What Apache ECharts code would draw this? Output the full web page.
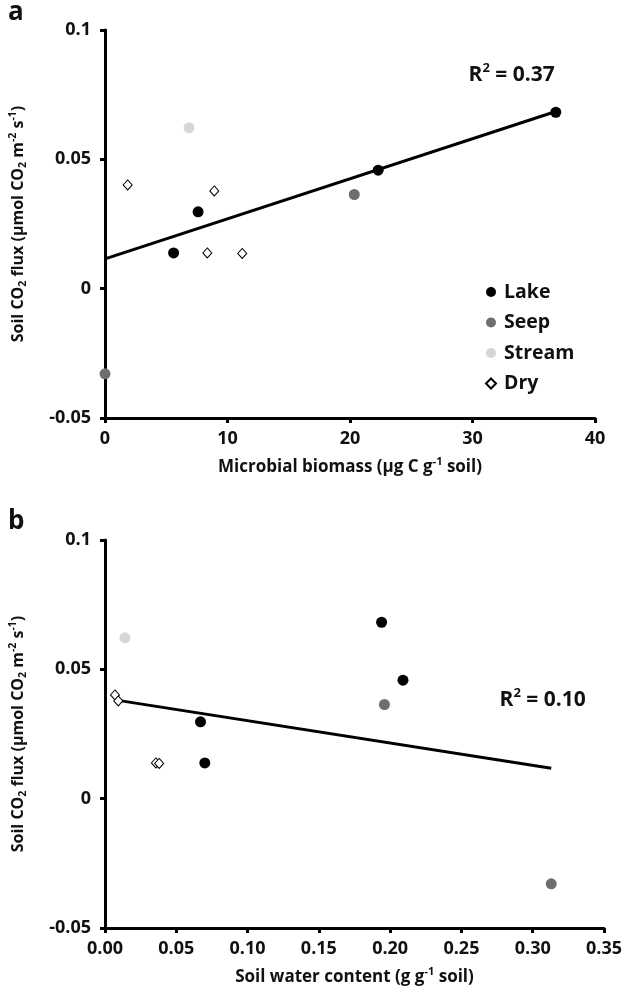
<!DOCTYPE html>
<html>
<head>
<meta charset="utf-8">
<script src="https://cdn.jsdelivr.net/npm/echarts@6/dist/echarts.min.js"></script>
<style>html,body{margin:0;padding:0;background:#fff}#c{width:625px;height:989px}</style>
</head>
<body>
<div id="c"></div>
<script>
// ---- data ----
const groups = ['Lake', 'Seep', 'Stream', 'Dry'];
const lakeBiomass = [5.6, 7.6, 22.3, 36.8];
const lakeWater   = [0.070, 0.067, 0.209, 0.194];
const lakeFlux    = [0.0138, 0.0297, 0.0458, 0.0682];
const seepBiomass = [0, 20.35];
const seepWater   = [0.313, 0.196];
const seepFlux    = [-0.0329, 0.0364];
const streamBiomass = [6.86];
const streamWater   = [0.014];
const streamFlux    = [0.0622];
const dryBiomass = [1.85, 8.92, 8.35, 11.2];
const dryWater   = [0.007, 0.0093, 0.0357, 0.038];
const dryFlux    = [0.0401, 0.0378, 0.0138, 0.0136];
const trendA = [[0, 0.0115], [36.8, 0.0685]];
const trendB = [[0.008, 0.0381], [0.313, 0.0118]];
const r2A = {x: 33.2, y: 0.0826, text: '0.37'};
const r2B = {x: 0.307, y: 0.0382, text: '0.10'};
const xTicksA = [0, 10, 20, 30, 40];
const xTicksB = [0, 0.05, 0.10, 0.15, 0.20, 0.25, 0.30, 0.35];
const yTicks = [-0.05, 0, 0.05, 0.1];

const FONT = '"Open Sans"';
const INK = '#111';
const colors = {Lake: '#000000', Seep: '#6e6e6e', Stream: '#d6d6d6', Dry: '#ffffff'};

const zip = (xs, ys) => xs.map((x, i) => [x, ys[i]]);

function rich(size, supSize) {
  return {
    n: {fontSize: size, fontWeight: 'bold', fontFamily: FONT, color: INK, lineHeight: size + 5},
    sup: {fontSize: supSize, fontWeight: 'bold', fontFamily: FONT, color: INK, lineHeight: supSize + 1, verticalAlign: 'top'},
    sub: {fontSize: supSize, fontWeight: 'bold', fontFamily: FONT, color: INK, lineHeight: supSize + 1, verticalAlign: 'bottom'}
  };
}
const yName = '{n|Soil CO}{sub|2}{n| flux (µmol CO}{sub|2}{n| m}{sup|-2}{n| s}{sup|-1}{n|)}';

function xAxis(idx, min, max, interval, name, fmt) {
  return {
    gridIndex: idx, type: 'value', min, max, interval,
    name, nameLocation: 'middle', nameGap: 38,
    nameTextStyle: {rich: rich(17, 11)},
    axisLine: {show: true, onZero: false, lineStyle: {color: '#000', width: 3}},
    axisTick: {show: true, inside: false, length: 5, lineStyle: {color: '#000', width: 3}},
    axisLabel: {margin: 12, fontSize: 18, fontWeight: 'bold', fontFamily: FONT, color: INK, formatter: fmt},
    splitLine: {show: false}
  };
}
function yAxis(idx) {
  return {
    gridIndex: idx, type: 'value', min: yTicks[0], max: yTicks[yTicks.length - 1], interval: 0.05,
    name: yName, nameLocation: 'middle', nameGap: 76, nameRotate: 90,
    nameTextStyle: {rich: rich(16, 10.5)},
    axisLine: {show: true, onZero: false, lineStyle: {color: '#000', width: 3}},
    axisTick: {show: true, inside: false, length: 5, lineStyle: {color: '#000', width: 3}},
    axisLabel: {margin: 14, fontSize: 18, fontWeight: 'bold', fontFamily: FONT, color: INK,
      formatter: v => String(Math.round(v * 100) / 100)},
    splitLine: {show: false}
  };
}

function scatter(name, data, idx) {
  const isDry = name === 'Dry';
  return {
    name, type: 'scatter', xAxisIndex: idx, yAxisIndex: idx, data,
    symbol: isDry ? 'diamond' : 'circle',
    symbolSize: isDry ? [9, 10] : 11,
    itemStyle: isDry ? {color: '#fff', borderColor: '#000', borderWidth: 1, opacity: 1}
                     : {color: colors[name], opacity: 1},
    z: 3
  };
}
function trend(data, idx) {
  return {type: 'line', xAxisIndex: idx, yAxisIndex: idx, data, symbol: 'none',
    lineStyle: {color: '#000', width: 3}, silent: true, z: 2};
}
function r2(p, idx) {
  return {type: 'scatter', xAxisIndex: idx, yAxisIndex: idx, data: [[p.x, p.y]], symbolSize: 0,
    silent: true, itemStyle: {opacity: 1},
    label: {show: true, position: 'inside', formatter: '{n|R}{sup|2}{n| = ' + p.text + '}', rich: rich(21, 13)}};
}

const option = {
  backgroundColor: '#fff',
  animation: false,
  grid: [
    {left: 105, top: 30, width: 490, height: 388},
    {left: 105, top: 540, width: 500, height: 388}
  ],
  xAxis: [
    xAxis(0, 0, 40, 10, '{n|Microbial biomass (µg C g}{sup|-1}{n| soil)}', v => String(v)),
    xAxis(1, 0, 0.35, 0.05, '{n|Soil water content (g g}{sup|-1}{n| soil)}', v => v.toFixed(2))
  ],
  yAxis: [yAxis(0), yAxis(1)],
  legend: {
    data: groups, orient: 'vertical', left: 480, top: 277,
    itemWidth: 10, itemHeight: 10, itemGap: 10.5,
    textStyle: {fontSize: 19.5, fontWeight: 'bold', fontFamily: FONT, color: INK, lineHeight: 20, padding: [0, 0, 0, 3]}
  },
  graphic: [
    {type: 'text', left: 8, top: 0, style: {text: 'a', fontSize: 26, fontWeight: 'bold', fontFamily: FONT, fill: INK}},
    {type: 'text', left: 8, top: 509, style: {text: 'b', fontSize: 26, fontWeight: 'bold', fontFamily: FONT, fill: INK}}
  ],
  series: [
    trend(trendA, 0),
    scatter('Lake', zip(lakeBiomass, lakeFlux), 0),
    scatter('Seep', zip(seepBiomass, seepFlux), 0),
    scatter('Stream', zip(streamBiomass, streamFlux), 0),
    scatter('Dry', zip(dryBiomass, dryFlux), 0),
    r2(r2A, 0),
    trend(trendB, 1),
    scatter('Lake', zip(lakeWater, lakeFlux), 1),
    scatter('Seep', zip(seepWater, seepFlux), 1),
    scatter('Stream', zip(streamWater, streamFlux), 1),
    scatter('Dry', zip(dryWater, dryFlux), 1),
    r2(r2B, 1)
  ]
};
const chart = echarts.init(document.getElementById('c'), null, {renderer: 'canvas'});
chart.setOption(option);
</script>
</body>
</html>
